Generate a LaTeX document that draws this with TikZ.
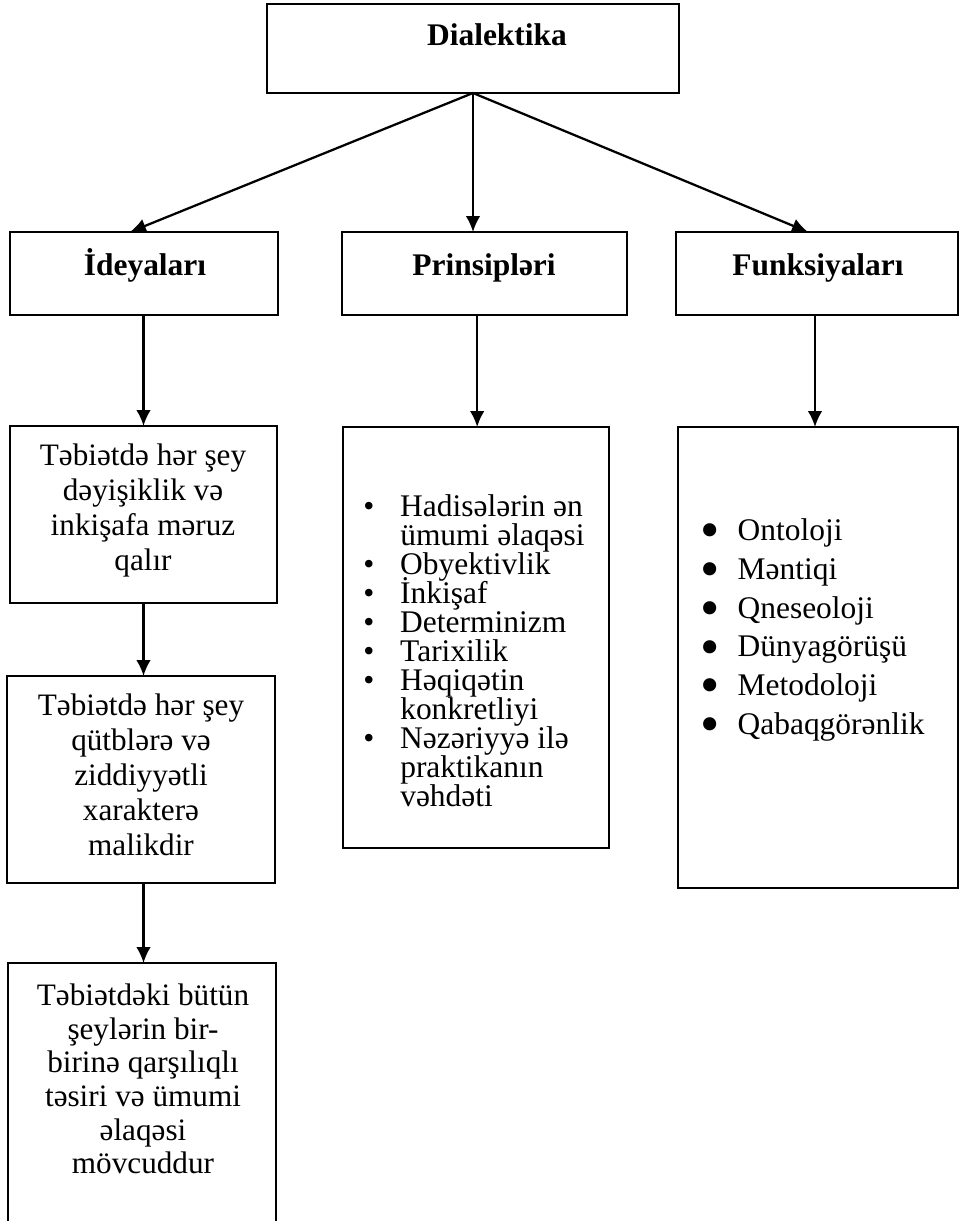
\documentclass[tikz,border=0pt]{standalone}
\usepackage{fontspec}
\setmainfont{Liberation Serif}
\usetikzlibrary{arrows.meta}
\newcommand\pbul{\makebox[27.75pt][l]{•}}
\newcommand\pind{\hspace*{27.75pt}}
\newcommand\fbul{\makebox[28pt][l]{\smash{\raisebox{-0.26em}{\scalebox{1.75}{•}}}}}
\setlength{\lineskiplimit}{-20pt}
\begin{document}
\begin{tikzpicture}[x=0.75pt,y=-0.75pt,
  box/.style={draw,line width=1.1pt,inner sep=0pt,outer sep=0pt,rectangle},
  arr/.style={-{Latex[length=12pt,width=11pt]},line width=1.7pt},
  txt/.style={inner sep=0pt,align=center,font=\fontsize{23.4}{26.25}\selectfont},
  ttl/.style={inner sep=0pt,anchor=base,font=\fontsize{23.6}{26}\selectfont\bfseries},
  lst/.style={inner sep=0pt,align=left,anchor=west}]
\useasboundingbox (0,0) rectangle (960,1221);
\fill[white] (0,0) rectangle (960,1221);
\begin{scope}
\clip (0,0) rectangle (960,1221);
% boxes
\node[box,minimum width=309pt,minimum height=66.75pt] (top) at (473,48.5) {};
\node[box,minimum width=201pt,minimum height=62.25pt] (ide) at (144,273.5) {};
\node[box,minimum width=213.75pt,minimum height=62.25pt] (pri) at (484.5,273.5) {};
\node[box,minimum width=211.5pt,minimum height=62.25pt] (fun) at (817,273.5) {};
\node[box,minimum width=200.25pt,minimum height=132.75pt] (A) at (143.5,514.5) {};
\node[box,minimum width=201pt,minimum height=155.25pt] (B) at (141,779.5) {};
\node[box,minimum width=201pt,minimum height=207.75pt] (C) at (142,1101.5) {};
\node[box,minimum width=199.5pt,minimum height=315.75pt] (L) at (476,637.5) {};
\node[box,minimum width=210pt,minimum height=345.75pt] (F) at (818,657.5) {};
% titles
\node[ttl] (t0) at (497,45) {Dialektika};
\node[ttl] (t1) at (145,275) {İdeyaları};
\node[ttl] (t2) at (484,275) {Prinsipləri};
\node[ttl] (t3) at (818,275) {Funksiyaları};
% texts
\node[txt] (tA) at (143,510) {Təbiətdə hər şey\\dəyişiklik və\\inkişafa məruz\\qalır};
\node[txt] (tB) at (141,775) {Təbiətdə hər şey\\qütblərə və\\ziddiyyətli\\xarakterə\\malikdir};
\node[txt,font=\fontsize{23.4}{25.2}\selectfont] (tC) at (143,1079) {Təbiətdəki bütün\\şeylərin bir-\\birinə qarşılıqlı\\təsiri və ümumi\\əlaqəsi\\mövcuddur};
\node[lst,font=\fontsize{23.6}{21.75}\selectfont] (tL) at (363,651)
  {\pbul Hadisələrin ən\\\pind ümumi əlaqəsi\\\pbul Obyektivlik\\\pbul İnkişaf\\\pbul Determinizm\\\pbul Tarixilik\\\pbul Həqiqətin\\\pind konkretliyi\\\pbul Nəzəriyyə ilə\\\pind praktikanın\\\pind vəhdəti};
\node[lst,font=\fontsize{23.6}{29.1}\selectfont] (tF) at (700,630)
  {\fbul Ontoloji\\\fbul Məntiqi\\\fbul Qneseoloji\\\fbul Dünyagörüşü\\\fbul Metodoloji\\\fbul Qabaqgörənlik};
% arrows
\draw[arr] (top.south) -- ([xshift=-10.5pt]ide.north);
\draw[arr] (top.south) -- (top.south |- pri.north);
\draw[arr] (top.south) -- ([xshift=-6.75pt]fun.north);
\draw[arr] (ide.south -| A.north) -- (A.north);
\draw[arr] ([xshift=-5.5pt]pri.south) -- ([xshift=-5.5pt]pri.south |- L.north);
\draw[arr] ([xshift=-1.5pt]fun.south) -- ([xshift=-1.5pt]fun.south |- F.north);
\draw[arr] (A.south) -- (A.south |- B.north);
\draw[arr] (A.south |- B.south) -- (A.south |- C.north);
\end{scope}
\end{tikzpicture}
\end{document}
